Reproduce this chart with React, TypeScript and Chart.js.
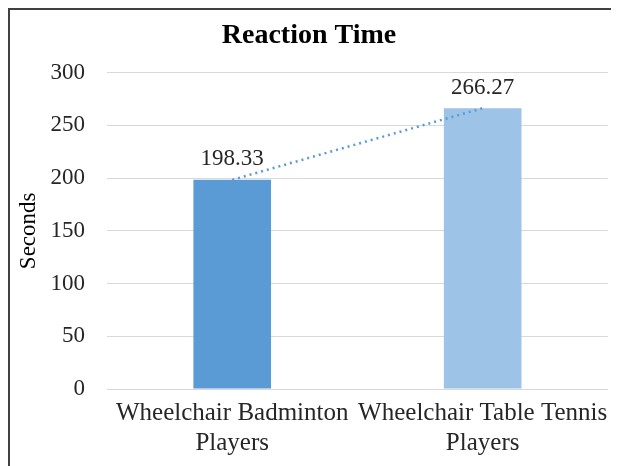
import React, { useEffect, useRef } from "react";
import { Chart, registerables } from "chart.js";

Chart.register(...registerables);

const categories: string[][] = [
  ["Wheelchair Badminton", "Players"],
  ["Wheelchair Table Tennis", "Players"],
];
const reactionTimes: number[] = [198.33, 266.27];
const barColors: string[] = ["#5B9BD5", "#9DC3E6"];
const yTicks = { min: 0, max: 300, step: 50 };

const FONT = '"Liberation Serif", "Times New Roman", serif';

function linearTrend(values: number[]): number[] {
  const n = values.length;
  const xs = values.map((_, i) => i + 1);
  const mx = xs.reduce((a, b) => a + b, 0) / n;
  const my = values.reduce((a, b) => a + b, 0) / n;
  let num = 0;
  let den = 0;
  for (let i = 0; i < n; i++) {
    num += (xs[i] - mx) * (values[i] - my);
    den += (xs[i] - mx) * (xs[i] - mx);
  }
  const slope = den === 0 ? 0 : num / den;
  const icpt = my - slope * mx;
  return xs.map((x) => icpt + slope * x);
}

const dataLabelPlugin = {
  id: "dataLabels",
  afterDatasetsDraw(chart: any) {
    const ctx = chart.ctx;
    const meta = chart.getDatasetMeta(0);
    const ds = chart.data.datasets[0];
    ctx.save();
    ctx.font = `23px ${FONT}`;
    ctx.fillStyle = "#262626";
    ctx.textAlign = "center";
    ctx.textBaseline = "bottom";
    meta.data.forEach((el: any, i: number) => {
      const v = ds.data[i] as number;
      ctx.fillText(v.toFixed(2), el.x, el.y - 9);
    });
    ctx.restore();
  },
};

export default function App() {
  const ref = useRef<HTMLCanvasElement | null>(null);

  useEffect(() => {
    if (!ref.current) return;
    const chart = new Chart(ref.current, {
      type: "bar",
      data: {
        labels: categories as any,
        datasets: [
          {
            type: "bar",
            label: "Reaction Time",
            data: reactionTimes,
            backgroundColor: barColors,
            barPercentage: 0.31,
            categoryPercentage: 1,
            order: 1,
          } as any,
          {
            type: "line",
            label: "Trend",
            data: linearTrend(reactionTimes),
            borderColor: "#5B9BD5",
            borderWidth: 2.5,
            borderDash: [2, 4],
            pointRadius: 0,
            fill: false,
            order: 0,
          } as any,
        ],
      },
      options: {
        responsive: false,
        animation: false,
        layout: { padding: { left: 0, right: 11, top: 0, bottom: 0 } },
        plugins: {
          legend: { display: false },
          tooltip: { enabled: false },
          title: {
            display: true,
            text: "Reaction Time",
            color: "#000000",
            font: { family: FONT, size: 28, weight: "bold" },
            padding: { top: 9, bottom: 20 },
          },
        },
        scales: {
          x: {
            afterFit: (scale: any) => {
              scale.height = 77;
            },
            grid: { display: false, drawTicks: false },
            border: { display: true, color: "#D9D9D9", width: 1 },
            ticks: {
              color: "#262626",
              font: { family: FONT, size: 25 },
              padding: 9,
              maxRotation: 0,
              autoSkip: false,
            },
          },
          y: {
            min: yTicks.min,
            max: yTicks.max,
            afterFit: (scale: any) => {
              scale.width = 97;
            },
            grid: { color: "#D9D9D9", drawTicks: false, lineWidth: 1 },
            border: { display: false },
            ticks: {
              stepSize: yTicks.step,
              color: "#262626",
              font: { family: FONT, size: 23 },
              padding: 22,
            },
            title: {
              display: true,
              text: "Seconds",
              color: "#000000",
              font: { family: FONT, size: 23 },
              padding: { top: 5, bottom: 0 },
            },
          },
        },
      },
      plugins: [dataLabelPlugin],
    });
    return () => chart.destroy();
  }, []);

  return (
    <div
      style={{
        width: 611,
        height: 458,
        boxSizing: "border-box",
        borderTop: "2px solid #404040",
        borderLeft: "2px solid #404040",
        overflow: "hidden",
        background: "#ffffff",
      }}
    >
      <canvas ref={ref} width={609} height={456} style={{ display: "block" }} />
    </div>
  );
}
